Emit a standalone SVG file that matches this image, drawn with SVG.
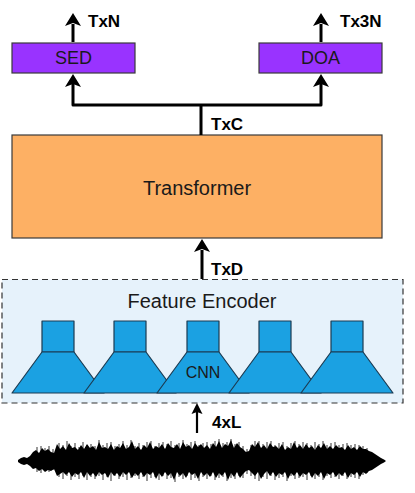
<svg xmlns="http://www.w3.org/2000/svg" width="415" height="493" viewBox="0 0 415 493">
<defs>
<style>
.lbl{font-family:"Liberation Sans",Arial,sans-serif;font-weight:bold;font-size:17px;fill:#000}
.txt{font-family:"Liberation Sans",Arial,sans-serif;fill:#1a1a1a}
.head{fill:#000}
.box{stroke:#3a3a3a;stroke-width:1.2}
.cnn{fill:#1ba1e2;stroke:#1b3b52;stroke-width:1.2;stroke-linejoin:round}
.wire{fill:none;stroke:#000;stroke-width:3;stroke-linejoin:round}
</style>
</defs>
<rect width="415" height="493" fill="#fff"/>

<g id="feature-encoder">
<rect x="2" y="279.5" width="401" height="123.5" fill="#e6f2fb" stroke="#333" stroke-width="1.2" stroke-dasharray="6,4"/>
<text class="txt" x="202" y="308" font-size="20" text-anchor="middle">Feature Encoder</text>
</g>
<g id="cnn1"><rect class="cnn" x="42" y="321" width="32" height="31"/><path class="cnn" d="M42,352 L74,352 L104,393 L12,393 Z"/></g>
<g id="cnn2"><rect class="cnn" x="114" y="321" width="32" height="31"/><path class="cnn" d="M114,352 L146,352 L176,393 L84,393 Z"/></g>
<g id="cnn3"><rect class="cnn" x="187" y="321" width="32" height="31"/><path class="cnn" d="M187,352 L219,352 L249,393 L157,393 Z"/>
<text class="txt" x="203" y="378" font-size="16" text-anchor="middle">CNN</text></g>
<g id="cnn4"><rect class="cnn" x="259" y="321" width="32" height="31"/><path class="cnn" d="M259,352 L291,352 L321,393 L229,393 Z"/></g>
<g id="cnn5"><rect class="cnn" x="331" y="321" width="32" height="31"/><path class="cnn" d="M331,352 L363,352 L393,393 L301,393 Z"/></g>

<g id="transformer">
<rect class="box" x="12" y="135" width="370" height="103" fill="#fdb064" stroke="#666"/>
<text class="txt" x="197" y="195" font-size="20" text-anchor="middle">Transformer</text>
</g>

<g id="sed">
<rect class="box" x="12" y="43" width="123" height="30" fill="#9933ff"/>
<text class="txt" x="73.5" y="64" font-size="18" text-anchor="middle">SED</text>
</g>
<g id="doa">
<rect class="box" x="259" y="43" width="123" height="30" fill="#9933ff"/>
<text class="txt" x="320.5" y="64" font-size="18" text-anchor="middle">DOA</text>
</g>

<g id="waveform">
<path fill="#000" d="M18,460 L21,458 L24,457 L27,458 L30,456 L33,452 L36,450 L39,453 L42,448 L45,451 L48,449 L51,452 L54,453 L57,444 L60,449 L63,446 L66,450 L69,443 L72,448 L75,447 L78,450 L81,445 L84,449 L87,444 L90,448 L93,446 L96,450 L99,442 L102,448 L105,447 L108,449 L111,444 L114,450 L117,446 L120,448 L123,443 L126,449 L129,447 L132,441 L135,449 L138,446 L141,450 L144,445 L147,448 L150,442 L153,449 L156,446 L159,448 L162,444 L165,449 L168,443 L171,447 L174,448 L177,444 L180,449 L183,442 L186,447 L189,445 L192,449 L195,443 L198,447 L201,444 L204,448 L207,445 L210,449 L213,443 L216,447 L219,441 L222,448 L225,444 L228,446 L231,440 L234,448 L237,443 L240,447 L243,449 L246,452 L249,451 L252,444 L255,447 L258,442 L261,448 L264,445 L267,449 L270,443 L273,447 L276,446 L279,449 L282,444 L285,450 L288,447 L291,449 L294,442 L297,448 L300,445 L303,449 L306,444 L309,448 L312,446 L315,450 L318,445 L321,448 L324,443 L327,449 L330,446 L333,449 L336,445 L339,448 L342,447 L345,450 L348,445 L351,449 L354,447 L357,450 L360,446 L363,449 L366,449 L369,451 L372,452 L375,454 L378,456 L381,458 L384,459.5 L386,461 L384,462.5 L381,464 L378,466 L375,468 L372,470 L369,471 L366,474 L363,472 L360,477 L357,472 L354,475 L351,473 L348,478 L345,472 L342,476 L339,473 L336,477 L333,472 L330,475 L327,473 L324,479 L321,472 L318,476 L315,473 L312,478 L309,472 L306,475 L303,473 L300,477 L297,472 L294,476 L291,473 L288,479 L285,472 L282,475 L279,473 L276,477 L273,472 L270,476 L267,471 L264,474 L261,479 L258,472 L255,476 L252,473 L249,470 L246,471 L243,474 L240,478 L237,472 L234,477 L231,473 L228,480 L225,472 L222,476 L219,473 L216,478 L213,472 L210,477 L207,473 L204,476 L201,472 L198,479 L195,473 L192,475 L189,472 L186,478 L183,473 L180,476 L177,472 L174,480 L171,473 L168,476 L165,472 L162,477 L159,473 L156,479 L153,472 L150,475 L147,473 L144,477 L141,472 L138,476 L135,473 L132,478 L129,472 L126,475 L123,472 L120,477 L117,473 L114,476 L111,472 L108,478 L105,473 L102,475 L99,472 L96,477 L93,473 L90,476 L87,472 L84,478 L81,472 L78,475 L75,473 L72,477 L69,472 L66,475 L63,472 L60,474 L57,476 L54,469 L51,471 L48,470 L45,472 L42,469 L39,471 L36,468 L33,469 L30,466 L27,464 L24,465 L21,464 L18,462 Z"/>
<path fill="none" stroke="#000" stroke-width="1" stroke-opacity="0.8" d="M59,443V477 M63,445V479 M67,441V476 M71,446V480 M75,443V477 M79,447V479 M83,442V476 M87,445V480 M91,444V477 M95,446V479 M99,440V476 M103,445V480 M107,443V477 M111,442V481 M115,446V476 M119,444V479 M123,441V477 M127,445V480 M131,440V478 M135,446V476 M139,443V479 M143,445V477 M147,442V481 M151,441V478 M155,446V477 M159,443V480 M163,442V476 M167,444V479 M171,441V478 M175,445V482 M179,443V477 M183,440V479 M187,444V476 M191,442V480 M195,441V478 M199,445V481 M203,443V477 M207,442V479 M211,444V476 M215,441V480 M219,439V478 M223,443V477 M227,442V481 M231,439V478 M235,444V479 M239,442V476 M243,446V478 M247,449V474 M251,445V476 M255,441V479 M259,441V481 M263,444V477 M267,442V479 M271,441V476 M275,445V480 M279,443V478 M283,442V477 M287,446V481 M291,443V476 M295,441V479 M299,444V478 M303,442V477 M307,443V480 M311,445V476 M315,442V479 M319,444V477 M323,441V480 M327,445V476 M331,443V478 M335,442V477 M339,445V479 M343,444V476 M347,443V479 M351,445V477 M355,444V478 M359,445V479 M363,446V475 M367,448V473 M37,447V472 M41,446V473 M45,448V471 M49,446V472 M53,449V470"/>
</g>

<g id="connectors">
<path class="wire" d="M73,42 V24"/>
<path class="head" d="M73,13 L81,26 L73,23 L65,26 Z"/>
<path class="wire" d="M321,42 V24"/>
<path class="head" d="M321,13 L329,26 L321,23 L313,26 Z"/>
<path class="wire" d="M201,135 V105 M73,84 V105 H321 V84"/>
<path class="head" d="M73,74 L81,87 L73,84 L65,87 Z"/>
<path class="head" d="M321,74 L329,87 L321,84 L313,87 Z"/>
<path class="wire" d="M202,279 V250"/>
<path class="head" d="M202,239 L210,252 L202,249 L194,252 Z"/>
<path d="M197,433 V412" fill="none" stroke="#000" stroke-width="2.2"/>
<path class="head" d="M197,403 L202.5,414 L197,412 L191.5,414 Z"/>
<text class="lbl" x="88" y="27">TxN</text>
<text class="lbl" x="340" y="27">Tx3N</text>
<text class="lbl" x="211" y="130">TxC</text>
<text class="lbl" x="211" y="275">TxD</text>
<text class="lbl" x="212" y="428">4xL</text>
</g>
</svg>
